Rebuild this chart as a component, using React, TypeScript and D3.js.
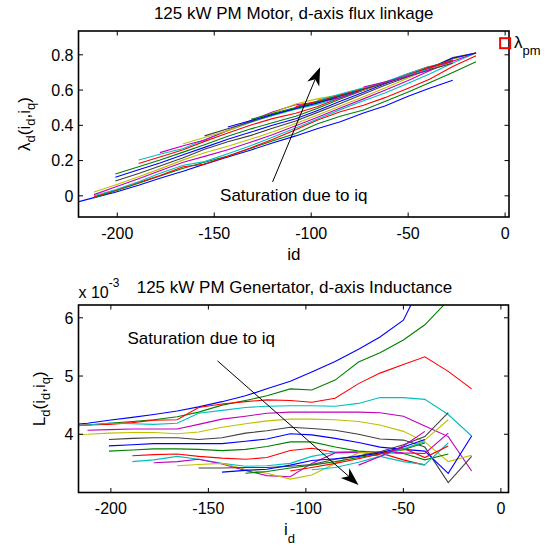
import React from 'react';
import * as d3 from 'd3';

const _ = null;

// d-axis current grid (A)
const ID_GRID = [-224, -212, -201, -189, -178, -166, -155, -143, -131, -120, -108, -97, -85, -73, -62, -50, -39, -27, -15];

// d-axis flux linkage (Wb), one series per iq
const LAMBDA_D_SERIES: (number | null)[][] = [
  [-0.045, -0.01, 0.02, 0.06, 0.10, 0.14, 0.18, 0.22, 0.26, 0.30, 0.34, 0.38, 0.42, 0.47, 0.51, 0.565, 0.61, 0.656, _],
  [_, -0.01, 0.028, 0.072, 0.113, 0.156, 0.191, 0.226, 0.27, 0.311, 0.354, 0.408, 0.451, 0.487, 0.535, 0.589, 0.641, 0.70, 0.76],
  [_, -0.005, 0.032, 0.076, 0.115, 0.165, 0.179, 0.224, 0.273, 0.319, 0.375, 0.429, 0.477, 0.514, 0.557, 0.61, 0.662, 0.733, 0.794],
  [_, 0.0, 0.035, 0.08, 0.128, 0.174, 0.194, 0.239, 0.286, 0.332, 0.385, 0.434, 0.489, 0.539, 0.583, 0.638, 0.691, 0.753, 0.81],
  [_, 0.007, 0.05, 0.097, 0.142, 0.191, 0.224, 0.261, 0.305, 0.347, 0.397, 0.445, 0.498, 0.55, 0.599, 0.654, 0.709, 0.763, 0.812],
  [_, 0.022, 0.062, 0.108, 0.153, 0.204, 0.244, 0.281, 0.322, 0.362, 0.41, 0.457, 0.509, 0.562, 0.612, 0.668, 0.719, 0.775, 0.812],
  [_, _, 0.084, 0.127, 0.169, 0.216, 0.264, 0.307, 0.343, 0.383, 0.425, 0.472, 0.524, 0.578, 0.627, 0.675, 0.723, 0.784, 0.81],
  [_, _, 0.106, 0.148, 0.186, 0.233, 0.275, 0.321, 0.362, 0.40, 0.437, 0.483, 0.536, 0.588, 0.636, 0.683, 0.725, 0.78, 0.81],
  [_, _, 0.124, 0.165, 0.203, 0.248, 0.29, 0.338, 0.38, 0.415, 0.452, 0.495, 0.549, 0.599, 0.641, 0.687, 0.731, 0.771, _],
  [_, _, _, 0.184, 0.22, 0.262, 0.309, 0.357, 0.402, 0.438, 0.468, 0.505, 0.556, 0.60, 0.642, 0.692, 0.735, _, _],
  [_, _, _, 0.203, 0.236, 0.269, 0.317, 0.37, 0.418, 0.455, 0.492, 0.519, 0.556, 0.60, 0.646, 0.694, 0.734, 0.766, _],
  [_, _, _, _, 0.245, 0.284, 0.317, 0.371, 0.427, 0.475, 0.517, 0.53, 0.557, 0.601, 0.641, 0.686, 0.727, 0.761, _],
  [_, _, _, _, _, 0.296, 0.331, 0.37, 0.425, 0.47, 0.521, 0.55, 0.573, 0.601, 0.641, 0.684, 0.718, 0.755, _],
  [_, _, _, _, _, _, 0.34, 0.381, 0.421, 0.458, 0.497, 0.532, 0.567, 0.605, 0.641, 0.679, 0.716, 0.752, _],
  [_, _, _, _, _, _, _, 0.391, 0.427, 0.462, 0.495, 0.526, 0.566, 0.606, 0.642, 0.681, 0.718, _, _],
  [_, _, _, _, _, _, _, _, 0.434, 0.467, 0.501, 0.533, 0.57, 0.607, 0.643, 0.683, 0.72, _, _],
  [_, _, _, _, _, _, _, _, _, _, 0.506, 0.537, 0.573, 0.609, 0.643, 0.682, 0.73, 0.767, _],
  [_, _, _, _, _, _, _, _, _, _, _, 0.541, 0.578, 0.613, 0.646, 0.683, 0.719, _, _],
  [_, _, _, _, _, _, _, _, _, _, _, _, _, 0.617, 0.646, 0.68, 0.712, _, _],
];

// d-axis inductance (x 1e-3 H), one series per iq
const L_D_SERIES: (number | null)[][] = [
  [4.15, 4.19, 4.24, 4.29, 4.34, 4.40, 4.47, 4.56, 4.66, 4.78, 4.91, 5.07, 5.25, 5.46, 5.67, 5.96, 6.70, 7.80, _],
  [4.13, 4.16, 4.19, 4.22, 4.25, 4.30, 4.38, 4.50, 4.58, 4.66, 4.78, 4.76, 4.93, 5.24, 5.40, 5.62, 5.88, 6.30, 7.10],
  [4.14, 4.16, 4.17, 4.20, 4.24, 4.25, 4.46, 4.52, 4.56, 4.59, 4.58, 4.55, 4.62, 4.87, 5.05, 5.20, 5.33, 5.08, 4.78],
  [4.14, 4.16, 4.19, 4.18, 4.17, 4.19, 4.36, 4.41, 4.46, 4.48, 4.49, 4.49, 4.48, 4.53, 4.63, 4.63, 4.60, 4.34, 3.97],
  [_, 4.07, 4.08, 4.09, 4.09, 4.09, 4.17, 4.26, 4.31, 4.36, 4.38, 4.38, 4.38, 4.38, 4.37, 4.31, 4.14, 3.96, 3.37],
  [3.99, 4.00, 4.02, 4.03, 4.03, 4.01, 4.04, 4.12, 4.18, 4.23, 4.26, 4.26, 4.25, 4.22, 4.16, 4.05, 3.87, 3.53, 3.64],
  [_, _, 3.91, 3.93, 3.94, 3.94, 3.91, 3.94, 4.02, 4.06, 4.12, 4.10, 4.07, 4.00, 3.92, 3.90, 3.78, 3.17, 3.62],
  [_, _, 3.80, 3.82, 3.84, 3.84, 3.84, 3.84, 3.88, 3.92, 4.01, 3.99, 3.93, 3.86, 3.78, 3.74, 3.71, 3.33, 3.97],
  [_, _, 3.71, 3.73, 3.75, 3.75, 3.74, 3.72, 3.74, 3.79, 3.87, 3.87, 3.78, 3.71, 3.69, 3.67, 3.56, 3.66, _],
  [_, _, _, 3.63, 3.65, 3.66, 3.62, 3.59, 3.57, 3.60, 3.72, 3.76, 3.69, 3.70, 3.68, 3.56, 3.47, _, _],
  [_, _, _, 3.53, 3.56, 3.62, 3.57, 3.50, 3.45, 3.46, 3.50, 3.62, 3.69, 3.70, 3.62, 3.53, 3.48, 3.85, _],
  [_, _, _, _, 3.51, 3.53, 3.57, 3.49, 3.38, 3.29, 3.27, 3.50, 3.68, 3.69, 3.70, 3.68, 3.67, 4.02, _],
  [_, _, _, _, _, 3.46, 3.48, 3.50, 3.40, 3.33, 3.23, 3.30, 3.50, 3.68, 3.70, 3.72, 3.90, 4.25, _],
  [_, _, _, _, _, _, 3.42, 3.42, 3.43, 3.43, 3.45, 3.48, 3.57, 3.63, 3.70, 3.82, 3.96, 4.37, _],
  [_, _, _, _, _, _, _, 3.35, 3.38, 3.40, 3.47, 3.55, 3.58, 3.62, 3.68, 3.78, 3.91, _, _],
  [_, _, _, _, _, _, _, _, 3.33, 3.36, 3.42, 3.47, 3.53, 3.60, 3.66, 3.74, 3.85, _, _],
  [_, _, _, _, _, _, _, _, _, _, 3.37, 3.43, 3.50, 3.58, 3.66, 3.76, 3.60, 3.80, _],
  [_, _, _, _, _, _, _, _, _, _, _, 3.39, 3.43, 3.52, 3.62, 3.75, 3.87, _, _],
  [_, _, _, _, _, _, _, _, _, _, _, _, _, 3.47, 3.62, 3.80, 4.05, _, _],
];

const LINE_COLORS = ['#0000ff', '#008000', '#ff0000', '#00bfbf', '#bf00bf', '#bfbf00', '#404040'];

const ID_TICKS = [-200, -150, -100, -50, 0];
const LAMBDA_TICKS = [0, 0.2, 0.4, 0.6, 0.8];
const L_TICKS = [4, 5, 6];

const LAMBDA_PM = 0.866;

// annotation anchors in data coordinates
const TOP_ARROW = { from: [-119.9, 0.079], to: [-95.4, 0.729] };
const TOP_TEXT = [-147, -0.027];
const BOT_ARROW = { from: [-145.3, 5.26], to: [-73, 3.13] };
const BOT_TEXT = [-191.5, 5.55];

const FONT = '"Liberation Sans", Arial, Helvetica, sans-serif';

type Box = { left: number; right: number; top: number; bottom: number };

function Arrow({ x0, y0, x1, y1 }: { x0: number; y0: number; x1: number; y1: number }) {
  const dx = x1 - x0, dy = y1 - y0;
  const len = Math.hypot(dx, dy);
  const ux = dx / len, uy = dy / len;
  const nx = -uy, ny = ux;
  const HL = 18, HW = 6.5, NOTCH = 13;
  const pts = [
    [x1, y1],
    [x1 - ux * HL + nx * HW, y1 - uy * HL + ny * HW],
    [x1 - ux * NOTCH, y1 - uy * NOTCH],
    [x1 - ux * HL - nx * HW, y1 - uy * HL - ny * HW],
  ];
  return (
    <g>
      <line x1={x0} y1={y0} x2={x1 - ux * NOTCH} y2={y1 - uy * NOTCH} stroke="#000" strokeWidth={1} />
      <polygon points={pts.map(p => p.join(',')).join(' ')} fill="#000" />
    </g>
  );
}

function Frame({ box, xScale, yScale, xTicks, yTicks, yFmt, xLabelY, clipId }: any) {
  const TL = 4.5;
  return (
    <g>
      {xTicks.map((t: number) => (
        <g key={'x' + t}>
          <line x1={xScale(t)} x2={xScale(t)} y1={box.bottom} y2={box.bottom - TL} stroke="#000" strokeWidth={1} />
          <line x1={xScale(t)} x2={xScale(t)} y1={box.top} y2={box.top + TL} stroke="#000" strokeWidth={1} />
          <text x={xScale(t)} y={xLabelY} textAnchor="middle" fontSize={16} fontFamily={FONT}>{t}</text>
        </g>
      ))}
      {yTicks.map((t: number) => (
        <g key={'y' + t}>
          <line x1={box.left} x2={box.left + TL} y1={yScale(t)} y2={yScale(t)} stroke="#000" strokeWidth={1} />
          <line x1={box.right} x2={box.right - TL} y1={yScale(t)} y2={yScale(t)} stroke="#000" strokeWidth={1} />
          <text x={box.left - 5} y={yScale(t) + 5.8} textAnchor="end" fontSize={16} fontFamily={FONT}>{yFmt(t)}</text>
        </g>
      ))}
      <rect x={box.left} y={box.top} width={box.right - box.left} height={box.bottom - box.top}
        fill="none" stroke="#000" strokeWidth={1.6} />
    </g>
  );
}

export default function App() {
  const top: Box = { left: 78.5, right: 509, top: 31, bottom: 217 };
  const bot: Box = { left: 78.5, right: 508.5, top: 305, bottom: 492.5 };

  const xTop = d3.scaleLinear().domain([-220, 2]).range([top.left, top.right]);
  const yTop = d3.scaleLinear().domain([-0.12, 0.935]).range([top.bottom, top.top]);
  const xBot = d3.scaleLinear().domain([-216.6, 3.9]).range([bot.left, bot.right]);
  const yBot = d3.scaleLinear().domain([3.0, 6.22]).range([bot.bottom, bot.top]);

  const lineTop = d3.line<number | null>()
    .defined(v => v != null)
    .x((_v, i) => xTop(ID_GRID[i]))
    .y(v => yTop(v as number));
  const lineBot = d3.line<number | null>()
    .defined(v => v != null)
    .x((_v, i) => xBot(ID_GRID[i]))
    .y(v => yBot(v as number));

  const fmtLambda = (t: number) => (t === 0 ? '0' : d3.format('.1f')(t));
  const fmtL = (t: number) => String(t);

  return (
    <svg width={553} height={548} style={{ position: 'absolute', left: 0, top: 0, background: '#fff' }}
      fontFamily={FONT}>
      <defs>
        <clipPath id="clipTop"><rect x={top.left} y={top.top} width={top.right - top.left} height={top.bottom - top.top} /></clipPath>
        <clipPath id="clipBot"><rect x={bot.left} y={bot.top} width={bot.right - bot.left} height={bot.bottom - bot.top} /></clipPath>
      </defs>
      <rect x={0} y={0} width={553} height={548} fill="#fff" />

      {/* ---------- Top: flux linkage ---------- */}
      <text x={(top.left + top.right) / 2} y={18.5} textAnchor="middle" fontSize={17}>125 kW PM Motor, d-axis flux linkage</text>
      <g clipPath="url(#clipTop)">
        {LAMBDA_D_SERIES.map((s, k) => (
          <path key={k} d={lineTop(s) || ''} fill="none" stroke={LINE_COLORS[k % LINE_COLORS.length]} strokeWidth={1.1} />
        ))}
      </g>
      <Frame box={top} xScale={xTop} yScale={yTop} xTicks={ID_TICKS} yTicks={LAMBDA_TICKS} yFmt={fmtLambda} xLabelY={238.5} />
      <rect x={xTop(0) - 5} y={yTop(LAMBDA_PM) - 5} width={10} height={10} fill="none" stroke="#ff0000" strokeWidth={2} />
      <text x={514} y={47.5} fontSize={17}>λ<tspan fontSize={13} dy={7.5}>pm</tspan></text>
      <Arrow x0={xTop(TOP_ARROW.from[0])} y0={yTop(TOP_ARROW.from[1])} x1={xTop(TOP_ARROW.to[0])} y1={yTop(TOP_ARROW.to[1])} />
      <text x={xTop(TOP_TEXT[0])} y={yTop(TOP_TEXT[1])} fontSize={17}>Saturation due to iq</text>
      <text x={(top.left + top.right) / 2} y={260} textAnchor="middle" fontSize={17}>id</text>
      <text transform={`translate(30,${(top.top + top.bottom) / 2}) rotate(-90)`} textAnchor="middle" fontSize={17}>
        λ<tspan fontSize={13} dy={5}>d</tspan><tspan dy={-5}>(i</tspan><tspan fontSize={13} dy={5}>d</tspan><tspan dy={-5}>,i</tspan><tspan fontSize={13} dy={5}>q</tspan><tspan dy={-5}>)</tspan>
      </text>

      {/* ---------- Bottom: inductance ---------- */}
      <text x={bot.left} y={298} fontSize={16}>x 10<tspan fontSize={12} dy={-11}>-3</tspan></text>
      <text x={(bot.left + bot.right) / 2 + 1} y={292.5} textAnchor="middle" fontSize={17}>125 kW PM Genertator, d-axis Inductance</text>
      <g clipPath="url(#clipBot)">
        {L_D_SERIES.map((s, k) => (
          <path key={k} d={lineBot(s) || ''} fill="none" stroke={LINE_COLORS[k % LINE_COLORS.length]} strokeWidth={1.1} />
        ))}
      </g>
      <Frame box={bot} xScale={xBot} yScale={yBot} xTicks={ID_TICKS} yTicks={L_TICKS} yFmt={fmtL} xLabelY={513.5} />
      <text x={xBot(BOT_TEXT[0])} y={yBot(BOT_TEXT[1])} fontSize={17}>Saturation due to iq</text>
      <Arrow x0={xBot(BOT_ARROW.from[0])} y0={yBot(BOT_ARROW.from[1])} x1={xBot(BOT_ARROW.to[0])} y1={yBot(BOT_ARROW.to[1])} />
      <text x={(bot.left + bot.right) / 2 - 4} y={535} textAnchor="middle" fontSize={17}>i<tspan fontSize={13} dy={8}>d</tspan></text>
      <text transform={`translate(45,${(bot.top + bot.bottom) / 2}) rotate(-90)`} textAnchor="middle" fontSize={17}>
        L<tspan fontSize={13} dy={5}>d</tspan><tspan dy={-5}>(i</tspan><tspan fontSize={13} dy={5}>d</tspan><tspan dy={-5}>,i</tspan><tspan fontSize={13} dy={5}>q</tspan><tspan dy={-5}>)</tspan>
      </text>
    </svg>
  );
}
